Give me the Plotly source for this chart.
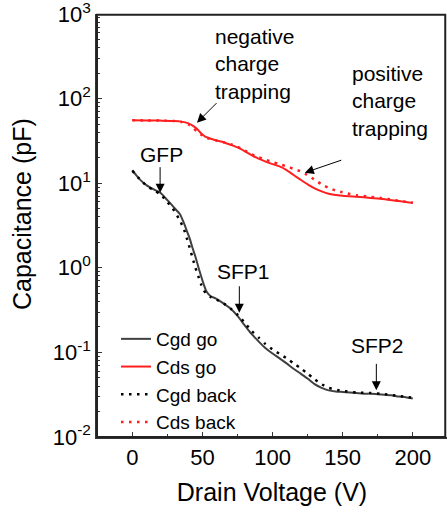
import plotly.graph_objects as go
import math

# ---- data (pF vs V) ----
v_cgd_go = [0, 3, 6, 10, 15, 20, 25, 30, 34, 37, 39, 41, 43, 45, 47, 49, 51, 53, 56, 60, 65, 70, 75, 80, 85, 90, 95, 100,
            105, 110, 115, 120, 125, 130, 135, 140, 145, 150, 155, 160, 165, 170, 175, 180, 185, 190, 195, 200]
c_cgd_go = [14.3, 12.3, 10.8, 9.5, 8.5, 7.7, 6.3, 5.1, 4.3, 3.3, 2.7, 2.2, 1.7, 1.35, 1.03, 0.8, 0.63, 0.52, 0.46, 0.43,
            0.38, 0.33, 0.27, 0.21, 0.165, 0.135, 0.112, 0.097, 0.085, 0.074, 0.064, 0.056, 0.049, 0.042, 0.038, 0.0355,
            0.0345, 0.034, 0.0335, 0.033, 0.0325, 0.0325, 0.032, 0.0315, 0.031, 0.030, 0.0295, 0.0285]

v_cgd_back = [0, 5, 10, 15, 20, 25, 30, 34, 37, 39, 41, 43, 45, 47, 49, 51, 53, 56, 60, 65, 70, 75, 80, 85, 90, 95, 100,
              105, 110, 115, 120, 125, 130, 135, 140, 150, 160, 170, 180, 190, 200]
c_cgd_back = [14.0, 11.3, 9.4, 8.3, 7.4, 6.0, 4.7, 3.6, 2.8, 2.2, 1.7, 1.3, 1.0, 0.8, 0.64, 0.54, 0.49, 0.45, 0.42, 0.38,
              0.33, 0.28, 0.225, 0.18, 0.15, 0.125, 0.108, 0.096, 0.085, 0.074, 0.065, 0.056, 0.048, 0.042, 0.038,
              0.035, 0.0335, 0.033, 0.032, 0.0305, 0.029]

v_cds_go = [0, 10, 20, 30, 35, 40, 43, 46, 49, 52, 55, 60, 65, 70, 75, 80, 85, 90, 95, 100, 105, 110, 115, 120, 125,
            130, 135, 140, 150, 160, 170, 180, 190, 200]
c_cds_go = [55.5, 55.3, 55.0, 54.5, 53.5, 51, 48, 44, 39, 35.5, 34, 32, 30.5, 28.5, 26.5, 24, 21.5, 19.5, 18, 16.8, 15.8,
            14.3, 12.5, 11, 9.7, 8.7, 8.0, 7.5, 7.1, 6.9, 6.7, 6.45, 6.15, 5.85]

v_cds_back = [0, 10, 20, 30, 35, 40, 43, 46, 49, 52, 55, 60, 65, 70, 75, 80, 85, 90, 95, 100, 105, 110, 115, 120, 125,
              130, 135, 140, 145, 150, 160, 170, 180, 190, 200]
c_cds_back = [55.5, 55.3, 55.0, 54.3, 53, 49.5, 45.5, 41, 37.5, 35, 33.5, 32, 30.5, 29, 27, 24.5, 22, 20.3, 19, 17.8,
              16.8, 15.8, 14.8, 13.8, 12.5, 11, 9.7, 8.8, 8.2, 7.8, 7.2, 6.9, 6.6, 6.2, 5.9]

x_ticks = [0, 50, 100, 150, 200]
y_ticks = [0.01, 0.1, 1, 10, 100, 1000]
y_ticktext = ["10<sup>-2</sup>", "10<sup>-1</sup>", "10<sup>0</sup>", "10<sup>1</sup>", "10<sup>2</sup>", "10<sup>3</sup>"]
y_minor = [m * 10 ** k for k in range(-2, 3) for m in range(2, 10)]
x_minor = [-25, 25, 75, 125, 175, 225]

FONT = "Arial"
RED = "#ff1f1f"
GRAY = "#404040"
AX = "#333333"
X_RANGE = [-25.2, 224.4]
Y_RANGE = [-2.001, 3.001]

fig = go.Figure()
fig.add_trace(go.Scatter(x=v_cgd_go, y=c_cgd_go, mode="lines", name="Cgd go",
                         line=dict(color=GRAY, width=2, shape="spline", smoothing=0.6)))
fig.add_trace(go.Scatter(x=v_cds_go, y=c_cds_go, mode="lines", name="Cds go",
                         line=dict(color=RED, width=2, shape="spline", smoothing=0.6)))
fig.add_trace(go.Scatter(x=v_cgd_back, y=c_cgd_back, mode="lines", name="Cgd back",
                         line=dict(color="black", width=2.5, dash="2.5px,5.5px", shape="spline", smoothing=0.6)))
fig.add_trace(go.Scatter(x=v_cds_back, y=c_cds_back, mode="lines", name="Cds back",
                         line=dict(color=RED, width=2.5, dash="2.5px,5.5px", shape="spline", smoothing=0.6)))

axis_common = dict(showline=True, linecolor=AX, linewidth=1.5, ticks="inside",
                   tickcolor=AX, tickwidth=1.2, showgrid=False, zeroline=False,
                   ticklabeloverflow="allow",
                   tickfont=dict(family=FONT, size=22, color="black"))
x_minor_d = dict(ticks="inside", ticklen=3, tickmode="array", tickvals=x_minor, tickcolor=AX)
y_minor_d = dict(ticks="inside", ticklen=3, tickmode="array", tickvals=y_minor, tickcolor=AX)

fig.update_layout(
    xaxis=dict(range=X_RANGE, tickmode="array", tickvals=x_ticks, ticklen=5, minor=x_minor_d,
               title=dict(text="Drain Voltage (V)", font=dict(family=FONT, size=25, color="black"), standoff=14),
               **axis_common),
    yaxis=dict(type="log", range=Y_RANGE, tickmode="array", tickvals=y_ticks, ticktext=y_ticktext, ticklen=5,
               minor=y_minor_d, **axis_common),
    xaxis2=dict(overlaying="x", side="top", anchor="y", range=X_RANGE, tickmode="array", tickvals=x_ticks,
                ticklen=5, minor=x_minor_d, showticklabels=False, **axis_common),
    yaxis2=dict(overlaying="y", side="right", anchor="x", type="log", range=Y_RANGE, tickmode="array",
                tickvals=y_ticks, ticklen=5, minor=y_minor_d, showticklabels=False, **axis_common),
)

ann_font = dict(family=FONT, size=21, color="black")
annotations = [
    dict(x=57.6, y=2.408, text="negative<br>charge<br>trapping", xanchor="left", yanchor="middle", align="left"),
    dict(x=155.3, y=1.970, text="positive<br>charge<br>trapping", xanchor="left", yanchor="middle", align="left"),
    dict(x=20.5, y=1.343, text="GFP", xanchor="center", yanchor="middle"),
    dict(x=79.6, y=-0.047, text="SFP1", xanchor="center", yanchor="middle"),
    dict(x=175.1, y=-0.917, text="SFP2", xanchor="center", yanchor="middle"),
]
for a in annotations:
    fig.add_annotation(xref="x", yref="y", showarrow=False, font=ann_font, **a)

arrows = [
    (46.1, math.log10(52), 21, -21),
    (123.0, 1.125, 38, -13),
    (19.8, 0.888, 0, -27),
    (76.3, -0.532, 0, -28),
    (174.0, -1.449, 0, -28),
]
for x, y, ax, ay in arrows:
    fig.add_annotation(xref="x", yref="y", x=x, y=y, ax=ax, ay=ay, text="", showarrow=True,
                       arrowhead=2, arrowsize=1.8, arrowwidth=1, arrowcolor="black", standoff=0)

fig.add_annotation(xref="paper", yref="paper", x=(22 - 97) / 350, y=(437 - 214) / 423, text="Capacitance (pF)",
                   textangle=-90, showarrow=False, xanchor="center", yanchor="middle",
                   font=dict(family=FONT, size=25, color="black"))

fig.add_shape(type="rect", xref="paper", yref="paper", x0=0, x1=0.995, y0=0, y1=0.998,
              line=dict(color="#222222", width=2), layer="above")

fig.update_layout(
    width=447, height=514,
    margin=dict(l=97, r=0, t=14, b=77),
    paper_bgcolor="white", plot_bgcolor="white",
    showlegend=True,
    legend=dict(x=(116 - 97) / 350, y=(437 - 320) / 423, xanchor="left", yanchor="top",
                bgcolor="rgba(0,0,0,0)", font=dict(family=FONT, size=19, color="black"),
                tracegroupgap=0, itemwidth=30),
)

fig.write_html("out.html")
